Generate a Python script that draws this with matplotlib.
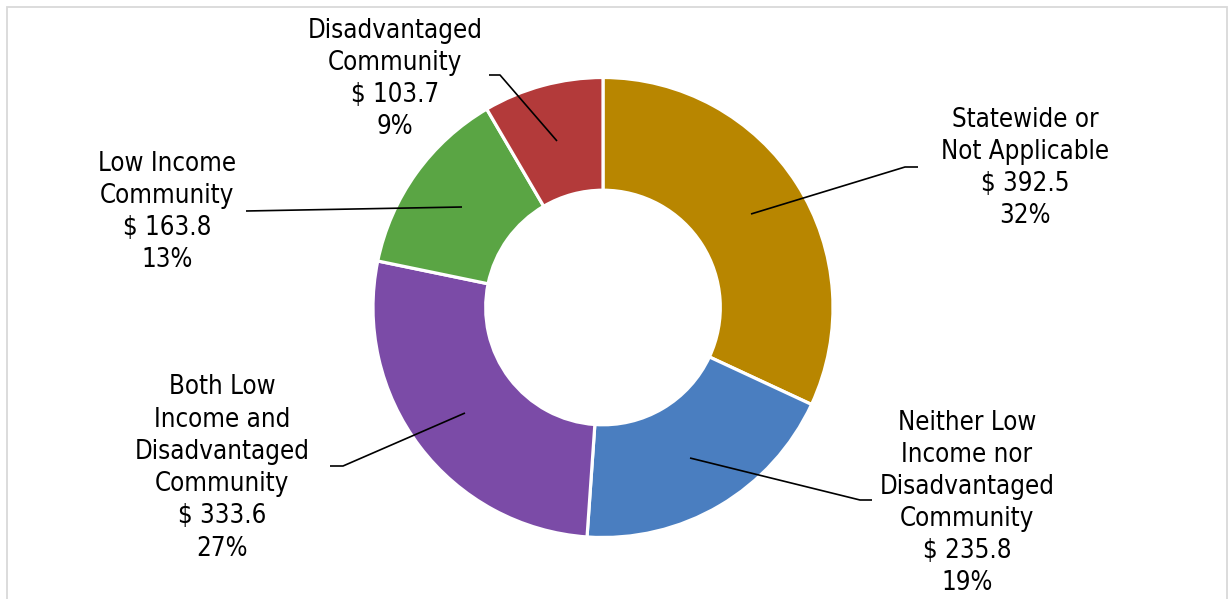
import matplotlib
matplotlib.use("Agg")
import matplotlib.pyplot as plt
from matplotlib.patches import Rectangle

categories = ["Statewide or\nNot Applicable",
              "Neither Low\nIncome nor\nDisadvantaged\nCommunity",
              "Both Low\nIncome and\nDisadvantaged\nCommunity",
              "Low Income\nCommunity",
              "Disadvantaged\nCommunity"]
values = [392.5, 235.8, 333.6, 163.8, 103.7]
pct_labels = ["32%", "19%", "27%", "13%", "9%"]
colors = ["#B88600", "#4A7EC0", "#7B4BA7", "#5AA544", "#B33A3A"]

W, H = 1230, 599
CX, CY, R = 603, 307.5, 230

fig = plt.figure(figsize=(W / 100, H / 100), dpi=100)
ax = fig.add_axes([0, 0, 1, 1])
ax.set_aspect("equal")
ax.axis("off")

ax.pie(values, colors=colors, startangle=90, counterclock=False, radius=1.0,
       wedgeprops=dict(width=0.49, edgecolor="white", linewidth=2.3))
ax.set_xlim(-CX / R, (W - CX) / R)
ax.set_ylim(-(H - CY) / R, CY / R)

def d(px, py):
    return ((px - CX) / R, (CY - py) / R)

# label layout (pixel positions): text center, leader path
layout = [
    ((1025, 168), [(751, 214), (905, 167), (918, 167)]),
    ((967, 503), [(690, 458), (860, 500), (872, 500)]),
    ((222, 468), [(465, 413), (343, 466), (330, 466)]),
    ((167, 212), [(462, 207), (246, 211)]),
    ((395, 79), [(557, 141), (500, 75), (489, 75)]),
]

for cat, v, p, (tc, path) in zip(categories, values, pct_labels, layout):
    txt = f"{cat}\n$ {v:.1f}\n{p}"
    x, y = d(*tc)
    ax.text(x, y, txt, ha="center", va="center", fontsize=18.5,
            family="DejaVu Sans", stretch="condensed", linespacing=1.31,
            color="black")
    xs = [d(*q)[0] for q in path]
    ys = [d(*q)[1] for q in path]
    ax.plot(xs, ys, color="black", linewidth=1.2, solid_capstyle="butt")

fig.patches.append(Rectangle((7 / W, -0.05), (1227 - 7) / W, 1.05 - 7 / H,
                             transform=fig.transFigure, fill=False,
                             edgecolor="#D9D9D9", linewidth=1.3))

fig.savefig("out.png", dpi=100)
